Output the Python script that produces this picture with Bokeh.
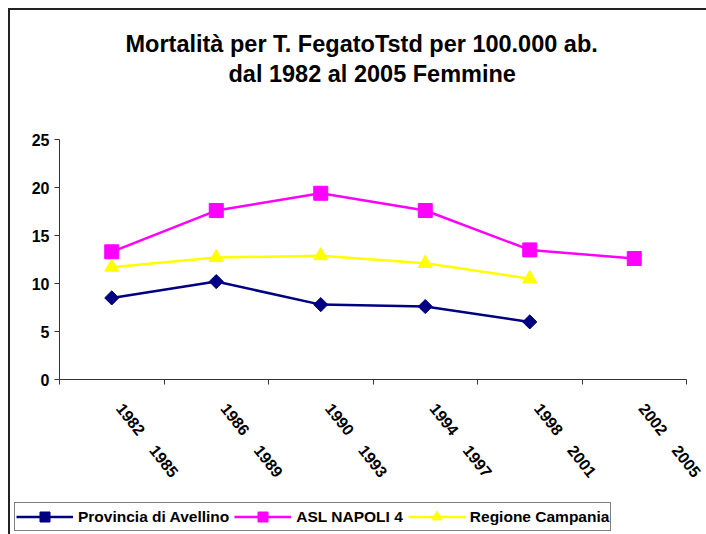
import math
from bokeh.plotting import figure
from bokeh.layouts import column
from bokeh.models import (Range1d, LinearAxis, FixedTicker, CustomJSTickFormatter,
                          Legend, LegendItem, Title, ColumnDataSource)
from bokeh.embed import file_html
from bokeh.resources import INLINE

NBSP = "\u00a0"
periods = ["1982-1985", "1986-1989", "1990-1993", "1994-1997", "1998-2001", "2002-2005"]
period_labels = [p.replace("-", NBSP * 4) for p in periods]
avellino = [8.5, 10.2, 7.8, 7.6, 6.0, float("nan")]
asl_napoli4 = [13.3, 17.6, 19.4, 17.6, 13.5, 12.6]
campania = [11.7, 12.7, 12.9, 12.1, 10.5, float("nan")]
y_ticks = [0, 5, 10, 15, 20, 25]
title1 = "Mortalità per T. FegatoTstd per 100.000 ab."
title2 = "dal 1982 al 2005 Femmine"
series_names = ["Provincia di Avellino", "ASL NAPOLI 4", "Regione Campania"]

FONT = "Liberation Sans"
AXIS_COLOR = "#333333"
n = len(periods)
xpos = [i + 0.5 for i in range(n)]  # category centres
LABEL_NUDGE = 0.075                   # labels start slightly right of the centre, as in Excel

STYLES = [dict(color="#000080", marker="square", angle=math.pi / 4, size=10),
          dict(color="#FF00FF", marker="square", angle=0.0, size=14),
          dict(color="#FFFF00", marker="triangle", angle=0.0, size=14)]

# ---------------- main chart ----------------
p = figure(width=696, height=488, output_backend="svg", toolbar_location=None,
           x_range=Range1d(0, n), y_range=Range1d(0, 25),
           x_axis_location=None, y_axis_location=None,
           min_border_left=49, min_border_right=20, min_border_top=129, min_border_bottom=119,
           title=None, outline_line_color=None)
p.xgrid.visible = False
p.ygrid.visible = False
p.frame_align = False

x_axis = LinearAxis(ticker=FixedTicker(ticks=[c + LABEL_NUDGE for c in xpos],
                                       minor_ticks=list(range(n + 1))),
                    formatter=CustomJSTickFormatter(args=dict(labels=period_labels),
                                                    code="return labels[Math.floor(tick)]"),
                    major_tick_in=0, major_tick_out=0, minor_tick_in=0, minor_tick_out=5,
                    axis_line_color=AXIS_COLOR, minor_tick_line_color=AXIS_COLOR,
                    major_label_orientation=-0.9, major_label_standoff=21,
                    major_label_text_font=FONT, major_label_text_font_style="bold",
                    major_label_text_font_size="16px", major_label_text_color="black")
p.add_layout(x_axis, "below")

y_axis = LinearAxis(ticker=FixedTicker(ticks=y_ticks), major_tick_in=0, major_tick_out=5,
                    minor_tick_out=0, minor_tick_in=0, major_label_standoff=5,
                    axis_line_color=AXIS_COLOR, major_tick_line_color=AXIS_COLOR,
                    major_label_text_font=FONT, major_label_text_font_style="bold",
                    major_label_text_font_size="16px", major_label_text_color="black")
p.add_layout(y_axis, "left")

src = ColumnDataSource(dict(x=xpos, s0=avellino, s1=asl_napoli4, s2=campania))
for i, st in enumerate(STYLES):
    p.line("x", f"s{i}", source=src, line_color=st["color"], line_width=2.5)
    p.scatter("x", f"s{i}", source=src, marker=st["marker"], angle=st["angle"], size=st["size"],
              fill_color=st["color"], line_color=st["color"])

# titles stacked above the frame: spacer, second line, first line
p.add_layout(Title(text=" ", text_font_size="1px", standoff=50), "above")
p.add_layout(Title(text=title2, align="left", offset=169, text_font=FONT, text_color="black",
                   text_font_style="bold", text_font_size="23.5px", standoff=0), "above")
p.add_layout(Title(text=title1, align="left", offset=66, text_font=FONT, text_color="black",
                   text_font_style="bold", text_font_size="23.5px", standoff=4), "above")

# ---------------- legend strip ----------------
p2 = figure(width=696, height=36, output_backend="svg", toolbar_location=None,
            x_range=Range1d(0, 1), y_range=Range1d(0, 1),
            x_axis_location=None, y_axis_location=None,
            min_border_left=4, min_border_right=0, min_border_top=4, min_border_bottom=0,
            title=None, outline_line_color=None)
p2.xgrid.visible = False
p2.ygrid.visible = False
p2.frame_align = False
items = []
nan = [float("nan")]
for name, st in zip(series_names, STYLES):
    lr = p2.line(nan, nan, line_color=st["color"], line_width=2.5)
    mr = p2.scatter(nan, nan, marker=st["marker"], angle=st["angle"], size=st["size"],
                    fill_color=st["color"], line_color=st["color"])
    items.append(LegendItem(label=name, renderers=[lr, mr]))
legend = Legend(items=items, orientation="horizontal", location="top_left",
                border_line_color="black", border_line_width=1, background_fill_alpha=1,
                label_text_font=FONT, label_text_font_style="bold", label_text_font_size="15.5px",
                label_text_color="black",
                label_standoff=5, glyph_width=57, glyph_height=25, label_height=25,
                spacing=5, padding=1, margin=0)
p2.add_layout(legend, "center")

layout = column(p, p2, spacing=0,
                styles={"margin-left": "8px", "margin-top": "8px",
                        "border-left": "2px solid #222", "border-top": "2px solid #222"})

open("out.html", "w").write(file_html(layout, INLINE))
